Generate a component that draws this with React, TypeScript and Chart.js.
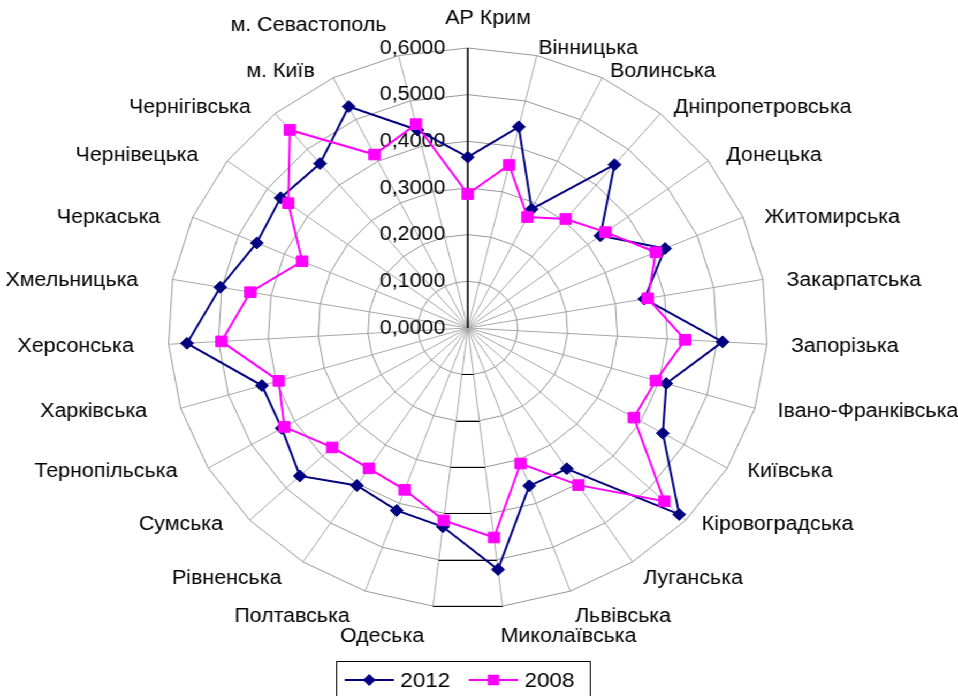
import React, { useEffect, useRef } from 'react';
import { Chart, registerables } from 'chart.js';

Chart.register(...registerables);

const CATEGORIES = [
  'АР Крим', 'Вінницька', 'Волинська', 'Дніпропетровська', 'Донецька', 'Житомирська',
  'Закарпатська', 'Запорізька', 'Івано-Франківська', 'Київська', 'Кіровоградська',
  'Луганська', 'Львівська', 'Миколаївська', 'Одеська', 'Полтавська', 'Рівненська',
  'Сумська', 'Тернопільська', 'Харківська', 'Херсонська', 'Хмельницька', 'Черкаська',
  'Чернівецька', 'Чернігівська', 'м. Київ', 'м. Севастополь',
];

const VALUES_2012 = [
  0.366, 0.443, 0.285, 0.457, 0.331, 0.430, 0.359, 0.511, 0.415, 0.451, 0.582,
  0.361, 0.360, 0.521, 0.429, 0.416, 0.404, 0.462, 0.430, 0.430, 0.563, 0.503,
  0.460, 0.467, 0.460, 0.531, 0.436,
];

const VALUES_2008 = [
  0.287, 0.359, 0.266, 0.305, 0.344, 0.410, 0.366, 0.436, 0.393, 0.384, 0.541,
  0.403, 0.309, 0.452, 0.415, 0.369, 0.360, 0.373, 0.424, 0.395, 0.494, 0.442,
  0.361, 0.448, 0.554, 0.416, 0.449,
];

const SERIES_NAMES = ['2012', '2008'];
const TICK_VALUES = [0, 0.1, 0.2, 0.3, 0.4, 0.5, 0.6];
const TICK_LABELS = ['0,0000', '0,1000', '0,2000', '0,3000', '0,4000', '0,5000', '0,6000'];

const NAVY = '#000080';
const MAGENTA = '#FF00FF';
const FONT = '"Liberation Sans", Arial, sans-serif';

const INNER_W = 895;
const INNER_H = 696;
const STRETCH = 958 / INNER_W;

const axisPlugin = {
  id: 'excelAxis',
  beforeDatasetsDraw(chart: any) {
    const scale = chart.scales.r;
    const ctx = chart.ctx;
    const n = CATEGORIES.length;
    ctx.save();
    // black bottom edges of the polygon rings
    ctx.strokeStyle = '#000';
    ctx.lineWidth = 1;
    TICK_VALUES.forEach((v) => {
      if (v <= 0) return;
      const d = scale.getDistanceFromCenterForValue(v);
      const a = scale.getPointPosition(Math.floor(n / 2), d);
      const b = scale.getPointPosition(Math.floor(n / 2) + 1, d);
      ctx.beginPath();
      ctx.moveTo(a.x, Math.round(a.y) + 0.5);
      ctx.lineTo(b.x, Math.round(b.y) + 0.5);
      ctx.stroke();
    });
    // vertical value axis
    const top = scale.getPointPosition(0, scale.getDistanceFromCenterForValue(TICK_VALUES[TICK_VALUES.length - 1]));
    ctx.lineWidth = 1.5;
    ctx.beginPath();
    ctx.moveTo(scale.xCenter, scale.yCenter);
    ctx.lineTo(top.x, top.y);
    ctx.stroke();
    // tick labels
    ctx.fillStyle = '#000';
    ctx.font = `20px ${FONT}`;
    ctx.textAlign = 'right';
    ctx.textBaseline = 'middle';
    TICK_VALUES.forEach((v, i) => {
      const d = scale.getDistanceFromCenterForValue(v);
      ctx.fillText(TICK_LABELS[i], scale.xCenter - 21, scale.yCenter - d);
    });
    ctx.restore();
  },
};

const labelPlugin = {
  id: 'excelPointLabels',
  afterDraw(chart: any) {
    const scale = chart.scales.r;
    const ctx = chart.ctx;
    const R = scale.drawingArea;
    const cx = scale.xCenter - 5;
    const cy = scale.yCenter + 2;
    ctx.save();
    ctx.font = `20px ${FONT}`;
    ctx.fillStyle = '#000';
    ctx.textBaseline = 'middle';
    CATEGORIES.forEach((lab, i) => {
      const p = scale.getPointPosition(i, R);
      const ux = (p.x - scale.xCenter) / R;
      const uy = (p.y - scale.yCenter) / R;
      const ax = cx + ux * R * 1.098;
      const ay = cy + uy * R * 1.014;
      const w = ctx.measureText(lab).width;
      let boost = 0;
      if (uy > 0) {
        boost = Math.max(0, (uy - 0.7) / 0.3) * 25;
      } else if (uy < -0.95 && ux <= 0.01) {
        boost = -28;
      } else if (uy < -0.55) {
        boost = -5;
      }
      let x = ax;
      if (Math.abs(ux) < 0.05) {
        ctx.textAlign = 'left';
        x = ax - 0.2 * w;
      } else if (ux > 0) {
        ctx.textAlign = 'left';
      } else {
        ctx.textAlign = 'right';
      }
      ctx.fillText(lab, x, ay + boost);
    });
    ctx.restore();
  },
};

function drawMarker(ctx: CanvasRenderingContext2D, style: string, x: number, y: number, r: number, color: string) {
  ctx.fillStyle = color;
  ctx.beginPath();
  if (style === 'rectRot') {
    ctx.moveTo(x - r, y);
    ctx.lineTo(x, y - r);
    ctx.lineTo(x + r, y);
    ctx.lineTo(x, y + r);
    ctx.closePath();
  } else {
    const s = r * Math.SQRT1_2;
    ctx.rect(x - s, y - s, 2 * s, 2 * s);
  }
  ctx.fill();
}

const legendPlugin = {
  id: 'excelLegend',
  afterDraw(chart: any) {
    const ctx = chart.ctx;
    const bx = 314;
    const by = 661;
    const bw = 237;
    const bh = 50;
    const my = 680;
    ctx.save();
    ctx.strokeStyle = '#000';
    ctx.lineWidth = 1;
    ctx.strokeRect(bx + 0.5, by + 0.5, bw, bh);
    const items = [
      { name: SERIES_NAMES[0], color: NAVY, style: 'rectRot', r: 6, x: bx + 8 },
      { name: SERIES_NAMES[1], color: MAGENTA, style: 'rect', r: 7.5, x: bx + 124 },
    ];
    ctx.font = `21px ${FONT}`;
    ctx.textBaseline = 'middle';
    ctx.textAlign = 'left';
    items.forEach((it) => {
      ctx.strokeStyle = it.color;
      ctx.lineWidth = 2;
      ctx.beginPath();
      ctx.moveTo(it.x, my);
      ctx.lineTo(it.x + 46, my);
      ctx.stroke();
      drawMarker(ctx, it.style, it.x + 23, my, it.r, it.color);
      ctx.fillStyle = '#000';
      ctx.fillText(it.name, it.x + 52, my + 1);
    });
    ctx.restore();
  },
};

export default function App() {
  const canvasRef = useRef<HTMLCanvasElement | null>(null);

  useEffect(() => {
    if (!canvasRef.current) return;
    const chart = new Chart(canvasRef.current, {
      type: 'radar',
      data: {
        labels: CATEGORIES,
        datasets: [
          {
            label: SERIES_NAMES[0],
            data: VALUES_2012,
            borderColor: NAVY,
            backgroundColor: NAVY,
            borderWidth: 2,
            fill: false,
            tension: 0,
            pointStyle: 'rectRot',
            pointRadius: 6,
            pointBorderWidth: 1,
            pointBorderColor: NAVY,
            pointBackgroundColor: NAVY,
            order: 1,
          },
          {
            label: SERIES_NAMES[1],
            data: VALUES_2008,
            borderColor: MAGENTA,
            backgroundColor: MAGENTA,
            borderWidth: 2,
            fill: false,
            tension: 0,
            pointStyle: 'rect',
            pointRadius: 7.5,
            pointBorderWidth: 1,
            pointBorderColor: MAGENTA,
            pointBackgroundColor: MAGENTA,
            order: 0,
          },
        ],
      },
      options: {
        animation: false,
        responsive: true,
        maintainAspectRatio: false,
        devicePixelRatio: 1,
        layout: { padding: { top: 48, bottom: 88, left: 157, right: 178 } },
        plugins: {
          legend: { display: false },
          title: { display: false },
          tooltip: { enabled: false },
        },
        scales: {
          r: {
            min: 0,
            max: 0.6,
            beginAtZero: true,
            ticks: { display: false, stepSize: 0.1 },
            grid: { circular: false, color: '#969696', lineWidth: 1 },
            angleLines: { display: true, color: '#a6a6a6', lineWidth: 1 },
            pointLabels: { display: false },
          },
        },
      },
      plugins: [axisPlugin, labelPlugin, legendPlugin],
    });
    return () => chart.destroy();
  }, []);

  return (
    <div
      style={{
        position: 'absolute',
        left: 0,
        top: 0,
        width: INNER_W,
        height: INNER_H,
        transform: `scaleX(${STRETCH})`,
        transformOrigin: '0 0',
        background: '#fff',
      }}
    >
      <canvas ref={canvasRef} />
    </div>
  );
}
